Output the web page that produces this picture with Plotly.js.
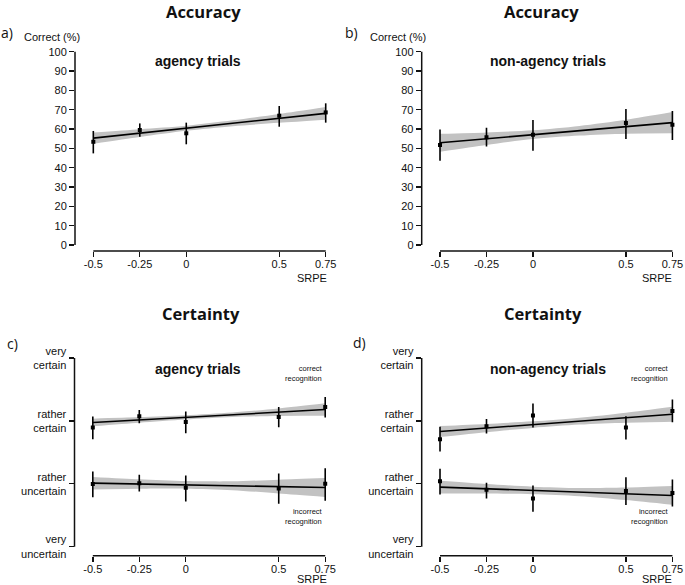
<!DOCTYPE html>
<html>
<head>
<meta charset="utf-8">
<script src="https://cdn.plot.ly/plotly-3.0.1.min.js"></script>
<style>html,body{margin:0;padding:0;background:#fff;}#chart{width:685px;height:585px;}</style>
</head>
<body>
<div id="chart"></div>
<script>
// ---- data ----
const srpe = [-0.5, -0.25, 0, 0.5, 0.75];
const xTickLabels = ["-0.5", "-0.25", "0", "0.5", "0.75"];
const bandX = [-0.5, -0.25, 0, 0.25, 0.5, 0.75];
const fitX = [-0.5, 0.75];

// panel a: accuracy, agency trials
const accAgencyMean = [53.4, 59.5, 57.8, 66.9, 68.6];
const accAgencyHi   = [59.0, 62.9, 63.3, 71.9, 73.3];
const accAgencyLo   = [47.4, 56.0, 52.1, 61.2, 63.3];
const accAgencyFit  = [55.3, 68.1];
const accAgencyBandHi = [58.2, 59.9, 61.7, 64.5, 67.8, 71.4];
const accAgencyBandLo = [52.4, 55.9, 59.1, 61.5, 63.2, 64.8];

// panel b: accuracy, non-agency trials
const accNonMean = [51.7, 55.7, 57.1, 63.1, 62.2];
const accNonHi   = [59.8, 60.7, 64.7, 70.3, 69.3];
const accNonLo   = [43.6, 50.9, 48.8, 54.8, 54.3];
const accNonFit  = [52.9, 63.3];
const accNonBandHi = [57.5, 58.2, 59.4, 61.6, 64.8, 68.8];
const accNonBandLo = [48.3, 51.8, 54.8, 56.6, 57.6, 57.8];

// panel c: certainty, agency trials (1 = very uncertain ... 4 = very certain)
const certAgCorrMean = [2.894, 3.074, 2.984, 3.063, 3.222];
const certAgCorrHi   = [3.069, 3.175, 3.148, 3.222, 3.381];
const certAgCorrLo   = [2.709, 2.963, 2.804, 2.899, 3.053];
const certAgCorrFit  = [2.974, 3.180];
const certAgCorrBandHi = [3.034, 3.060, 3.091, 3.135, 3.199, 3.280];
const certAgCorrBandLo = [2.914, 2.970, 3.021, 3.061, 3.079, 3.080];

const certAgIncMean = [1.995, 2.010, 1.937, 1.926, 2.000];
const certAgIncHi   = [2.196, 2.143, 2.132, 2.164, 2.249];
const certAgIncLo   = [1.788, 1.878, 1.720, 1.683, 1.730];
const certAgIncFit  = [2.010, 1.942];
const certAgIncBandHi = [2.110, 2.071, 2.043, 2.039, 2.066, 2.092];
const certAgIncBandLo = [1.910, 1.921, 1.923, 1.899, 1.846, 1.792];

// panel d: certainty, non-agency trials
const certNonCorrMean = [2.709, 2.915, 3.085, 2.894, 3.159];
const certNonCorrHi   = [2.905, 3.032, 3.275, 3.074, 3.339];
const certNonCorrLo   = [2.513, 2.799, 2.894, 2.704, 2.979];
const certNonCorrFit  = [2.831, 3.106];
const certNonCorrBandHi = [2.918, 2.951, 2.993, 3.051, 3.131, 3.226];
const certNonCorrBandLo = [2.744, 2.821, 2.889, 2.941, 2.971, 2.986];

const certNonIncMean = [2.042, 1.905, 1.767, 1.884, 1.852];
const certNonIncHi   = [2.238, 2.016, 1.974, 2.106, 2.069];
const certNonIncLo   = [1.831, 1.767, 1.556, 1.661, 1.640];
const certNonIncFit  = [1.947, 1.815];
const certNonIncBandHi = [2.047, 1.996, 1.954, 1.933, 1.941, 1.965];
const certNonIncBandLo = [1.847, 1.846, 1.834, 1.803, 1.741, 1.665];

const accTicks = [0, 10, 20, 30, 40, 50, 60, 70, 80, 90, 100];
const certTicks = [1, 2, 3, 4];
const certTickLabels = ["very<br>uncertain", "rather<br>uncertain", "rather<br>certain", "very<br>certain"];

// ---- build ----
const W = 685, H = 585;
const px = v => v / W;
const py = v => 1 - v / H;

const traces = [];
function addSeries(xa, ya, mean, hi, lo, fit, bHi, bLo) {
  traces.push({
    type: 'scatter', mode: 'lines', xaxis: xa, yaxis: ya,
    x: bandX, y: bLo,
    line: {width: 0, color: 'rgba(0,0,0,0)', shape: 'spline', smoothing: 0.8},
    hoverinfo: 'skip', showlegend: false
  });
  traces.push({
    type: 'scatter', mode: 'lines', xaxis: xa, yaxis: ya,
    x: bandX, y: bHi,
    fill: 'tonexty', fillcolor: '#c2c2c2',
    line: {width: 0, color: 'rgba(0,0,0,0)', shape: 'spline', smoothing: 0.8},
    hoverinfo: 'skip', showlegend: false
  });
  traces.push({
    type: 'scatter', mode: 'lines', xaxis: xa, yaxis: ya,
    x: fitX, y: fit, line: {color: '#000', width: 1.6},
    hoverinfo: 'skip', showlegend: false
  });
  traces.push({
    type: 'scatter', mode: 'markers', xaxis: xa, yaxis: ya,
    x: srpe, y: mean,
    marker: {symbol: 'square', size: 4, color: '#000'},
    error_y: {
      type: 'data', symmetric: false,
      array: hi.map((h, i) => h - mean[i]),
      arrayminus: lo.map((l, i) => mean[i] - l),
      width: 0, thickness: 1.6, color: '#000'
    },
    hoverinfo: 'skip', showlegend: false
  });
}

addSeries('x', 'y', accAgencyMean, accAgencyHi, accAgencyLo, accAgencyFit, accAgencyBandHi, accAgencyBandLo);
addSeries('x2', 'y2', accNonMean, accNonHi, accNonLo, accNonFit, accNonBandHi, accNonBandLo);
addSeries('x3', 'y3', certAgCorrMean, certAgCorrHi, certAgCorrLo, certAgCorrFit, certAgCorrBandHi, certAgCorrBandLo);
addSeries('x3', 'y3', certAgIncMean, certAgIncHi, certAgIncLo, certAgIncFit, certAgIncBandHi, certAgIncBandLo);
addSeries('x4', 'y4', certNonCorrMean, certNonCorrHi, certNonCorrLo, certNonCorrFit, certNonCorrBandHi, certNonCorrBandLo);
addSeries('x4', 'y4', certNonIncMean, certNonIncHi, certNonIncLo, certNonIncFit, certNonIncBandHi, certNonIncBandLo);

const tickFont = {family: 'Liberation Sans, Arial, sans-serif', size: 11, color: '#111'};
const xRange = [-0.5985, 0.7731];
function xAxis(left, anchor) {
  return {
    domain: [px(left), px(left + 255)], range: xRange, anchor: anchor,
    tickmode: 'array', tickvals: srpe, ticktext: xTickLabels,
    ticks: 'outside', ticklen: 5, tickwidth: 1.4, tickcolor: '#111',
    ticklabelstandoff: -2,
    showgrid: false, zeroline: false, showline: false,
    tickfont: tickFont, fixedrange: true
  };
}
function yAxis(top, bottom, range, vals, text, anchor) {
  return {
    domain: [py(bottom), py(top)], range: range, anchor: anchor,
    tickmode: 'array', tickvals: vals, ticktext: text,
    ticks: 'outside', ticklen: 5, tickwidth: 1.4, tickcolor: '#111',
    showgrid: false, zeroline: false, showline: false,
    tickfont: tickFont, fixedrange: true
  };
}

const accRange = [-3.1, 103.47];
const certRange = [0.857, 4.127];

const shapes = [];
function axisLines(xa, ya, y0, y1) {
  shapes.push({type: 'line', xref: xa + ' domain', yref: ya, x0: 0, x1: 0, y0: y0, y1: y1, line: {color: '#111', width: 1.5}});
  shapes.push({type: 'line', xref: xa, yref: ya + ' domain', x0: -0.5, x1: 0.75, y0: 0, y1: 0, line: {color: '#111', width: 1.5}});
}
axisLines('x', 'y', 0, 100);
axisLines('x2', 'y2', 0, 100);
axisLines('x3', 'y3', 1, 4);
axisLines('x4', 'y4', 1, 4);

const titleFont = {family: 'Open Sans, sans-serif', size: 16.5, color: '#111', weight: 'bold'};
const panelFont = {family: 'Open Sans, sans-serif', size: 14, color: '#111'};
const subFont = {family: 'Liberation Sans, Arial, sans-serif', size: 14, color: '#111', weight: 'bold'};
const smallFont = {family: 'Liberation Sans, Arial, sans-serif', size: 7.5, color: '#111'};

function ann(text, x, y, font, xanchor) {
  return {text: text, x: px(x), y: py(y), xref: 'paper', yref: 'paper',
    xanchor: xanchor || 'center', yanchor: 'middle', showarrow: false, font: font, borderpad: 0,
    align: xanchor === 'right' ? 'right' : (xanchor === 'left' ? 'left' : 'center')};
}

const annotations = [
  ann('<b>Accuracy</b>', 203, 11, titleFont),
  ann('<b>Accuracy</b>', 541, 11, titleFont),
  ann('<b>Certainty</b>', 201, 313, titleFont),
  ann('<b>Certainty</b>', 543, 313, titleFont),
  ann('a)', 0, 32, panelFont, 'left'),
  ann('b)', 344, 32, panelFont, 'left'),
  ann('c)', 6, 343, panelFont, 'left'),
  ann('d)', 352, 342, panelFont, 'left'),
  ann('Correct (%)', 52, 37, tickFont),
  ann('Correct (%)', 398, 37, tickFont),
  ann('<b>agency trials</b>', 197.5, 61, subFont),
  ann('<b>non-agency trials</b>', 547.5, 61, subFont),
  ann('<b>agency trials</b>', 197.5, 369, subFont),
  ann('<b>non-agency trials</b>', 547.5, 369, subFont),
  ann('correct<br>recognition', 324, 374, smallFont, 'right'),
  ann('incorrect<br>recognition', 324, 516, smallFont, 'right'),
  ann('correct<br>recognition', 670, 374, smallFont, 'right'),
  ann('incorrect<br>recognition', 670, 516, smallFont, 'right'),
  ann('SRPE', 328, 277.5, tickFont, 'right'),
  ann('SRPE', 673, 277.5, tickFont, 'right'),
  ann('SRPE', 328, 578.5, tickFont, 'right'),
  ann('SRPE', 673, 578.5, tickFont, 'right')
];

const layout = {
  width: W, height: H,
  margin: {l: 0, r: 0, t: 0, b: 0},
  paper_bgcolor: '#fff', plot_bgcolor: 'rgba(0,0,0,0)',
  showlegend: false,
  xaxis: xAxis(75, 'y'),
  yaxis: yAxis(45, 251, accRange, accTicks, accTicks.map(String), 'x'),
  xaxis2: xAxis(421.7, 'y2'),
  yaxis2: yAxis(45, 251, accRange, accTicks, accTicks.map(String), 'x2'),
  xaxis3: xAxis(74.5, 'y3'),
  yaxis3: yAxis(350, 555.7, certRange, certTicks, certTickLabels, 'x3'),
  xaxis4: xAxis(421.7, 'y4'),
  yaxis4: yAxis(350, 555.7, certRange, certTicks, certTickLabels, 'x4'),
  shapes: shapes,
  annotations: annotations
};

Plotly.newPlot('chart', traces, layout, {displayModeBar: false, staticPlot: true});
</script>
</body>
</html>
